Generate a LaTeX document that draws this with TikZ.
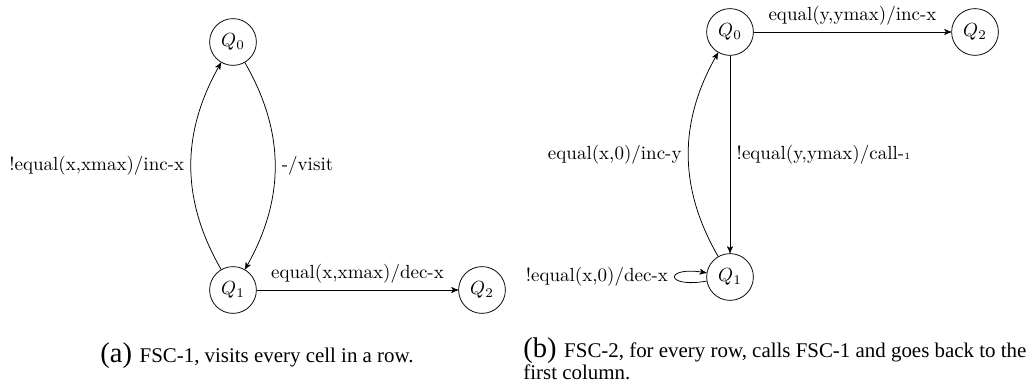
\documentclass[tikz,border=0pt]{standalone}
\usepackage{fontspec}
\newfontfamily\capfont{Liberation Serif}
\usepackage{tikz}
\usetikzlibrary{arrows,positioning}

\tikzset{
  fscstate/.style={circle,draw,minimum size=24.6pt,inner sep=0pt},
  trans/.style={->,>=stealth'},
  captext/.style={anchor=base west,inner sep=0pt,align=left,
    font=\capfont\fontsize{11}{9.8}\selectfont}
}
\newcommand{\subcap}[1]{{\fontsize{15}{15}\selectfont(#1)}\hspace{4pt}}

\begin{document}
\begin{tikzpicture}[x=0.526pt,y=0.526pt]
  \useasboundingbox (0,0) rectangle (1032,392);

  % FSC-1
  \node[fscstate] (a0) at (233,350) {$Q_0$};
  \node[fscstate] (a1) at (233,102) {$Q_1$};
  \node[fscstate] (a2) at (482,102) {$Q_2$};
  \draw[trans] (a1) to[bend left=30] node[left] {!equal(x,xmax)/inc-x} (a0);
  \draw[trans] (a0) to[bend left=30] node[right] {-/visit} (a1);
  \draw[trans] (a1) -- node[above] {equal(x,xmax)/dec-x} (a2);
  \node[captext] (capa) at (100,29) {\subcap{a}FSC-1, visits every cell in a row.};

  % FSC-2
  \node[fscstate] (b0) at (730,360) {$Q_0$};
  \node[fscstate] (b1) at (730,115) {$Q_1$};
  \node[fscstate] (b2) at (975,360) {$Q_2$};
  \draw[trans] (b0) -- node[above] {equal(y,ymax)/inc-x} (b2);
  \draw[trans] (b0) -- node[right] {!equal(y,ymax)/call-{\tiny 1}} (b1);
  \draw[trans] (b1) to[bend left=30] node[left] {equal(x,0)/inc-y} (b0);
  \draw[trans] (b1) to[out=190,in=170,looseness=8,min distance=8mm]
    node[left] {!equal(x,0)/dec-x} (b1);
  \node[captext] (capb) at (523,12)
    {\subcap{b}FSC-2, for every row, calls FSC-1 and goes back to the\\
     first column.};
\end{tikzpicture}
\end{document}
